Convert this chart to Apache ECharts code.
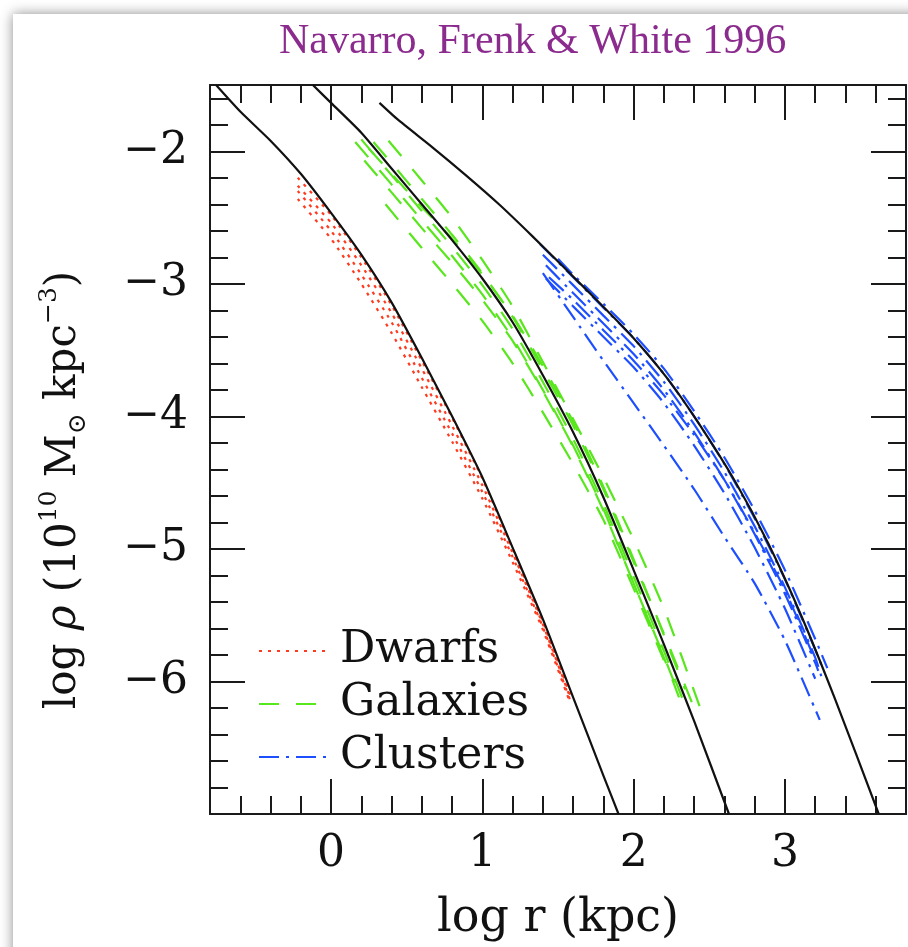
<!DOCTYPE html>
<html>
<head>
<meta charset="utf-8">
<script src="https://cdn.jsdelivr.net/npm/echarts@6/dist/echarts.min.js"></script>
<style>
  html, body { margin: 0; padding: 0; background: #ffffff; overflow: hidden; }
  #frame { position: absolute; left: 13px; top: 14px; width: 940px; height: 980px; background: #fff; box-shadow: 0 0 12px rgba(0,0,0,0.45); }
  #chart { position: absolute; left: 0; top: 0; width: 908px; height: 947px; }
</style>
</head>
<body>
<div id="frame"></div>
<div id="chart"></div>
<script>
// ---- tick labels ----
const xMajorTicks = [0, 1, 2, 3];
const yMajorTicks = [-6, -5, -4, -3, -2];

// ---- NFW fits (black solid) ----
const nfwDwarfX = [-0.76, -0.6, -0.4, -0.2, 0, 0.2, 0.4, 0.6, 0.8, 1.0, 1.2, 1.4, 1.6, 1.8, 1.9];
const nfwDwarfY = [-1.50, -1.70, -1.92, -2.17, -2.465, -2.78, -3.14, -3.56, -4.00, -4.46, -4.99, -5.53, -6.12, -6.71, -7.0];
const nfwGalaxyX = [-0.12, 0, 0.2, 0.4, 0.6, 0.8, 1.0, 1.2, 1.4, 1.6, 1.8, 2.0, 2.2, 2.4, 2.63];
const nfwGalaxyY = [-1.50, -1.635, -1.86, -2.13, -2.40, -2.67, -2.96, -3.29, -3.69, -4.12, -4.61, -5.16, -5.72, -6.30, -7.0];
const nfwClusterX = [0.32, 0.44, 0.67, 0.89, 1.11, 1.33, 1.56, 1.78, 2.0, 2.22, 2.44, 2.67, 2.89, 3.11, 3.33, 3.62];
const nfwClusterY = [-1.635, -1.76, -1.97, -2.18, -2.40, -2.64, -2.90, -3.15, -3.41, -3.71, -4.07, -4.49, -4.96, -5.51, -6.13, -7.0];

// ---- Dwarfs (red dotted) ----
const dwarfX = [-0.22, 0, 0.2, 0.4, 0.6, 0.8, 1.0, 1.2, 1.4, 1.58];
const dwarf1Y = [-2.20, -2.48, -2.80, -3.16, -3.58, -4.01, -4.47, -5.00, -5.55, -6.10];
const dwarf2Y = [-2.26, -2.54, -2.86, -3.22, -3.64, -4.07, -4.52, -5.03, -5.57, -6.12];
const dwarf3Y = [-2.30, -2.60, -2.93, -3.29, -3.71, -4.13, -4.57, -5.06, -5.59, -6.14];
const dwarf4Y = [-2.36, -2.66, -3.00, -3.37, -3.78, -4.19, -4.62, -5.10, -5.61, -6.16];

// ---- Galaxies (green dashed) ----
const galaxy1X = [0.16, 0.4, 0.6, 0.8, 1.0, 1.2, 1.4, 1.6, 1.8, 2.0, 2.2, 2.3];
const galaxy1Y = [-1.93, -2.25, -2.52, -2.79, -3.08, -3.41, -3.80, -4.22, -4.70, -5.26, -5.82, -6.12];
const galaxy2X = [0.2, 0.4, 0.6, 0.8, 1.0, 1.2, 1.4, 1.6, 1.8, 2.0, 2.2, 2.35];
const galaxy2Y = [-1.91, -2.18, -2.45, -2.72, -3.01, -3.34, -3.74, -4.17, -4.66, -5.21, -5.77, -6.21];
const galaxy3X = [0.22, 0.4, 0.6, 0.8, 1.0, 1.2, 1.4, 1.6, 1.8, 2.0, 2.2, 2.28];
const galaxy3Y = [-2.07, -2.31, -2.58, -2.84, -3.12, -3.43, -3.81, -4.23, -4.71, -5.26, -5.81, -6.04];
const galaxy4X = [0.28, 0.4, 0.6, 0.8, 1.0, 1.2, 1.4, 1.6, 1.8, 2.0, 2.2, 2.4];
const galaxy4Y = [-1.93, -2.09, -2.36, -2.63, -2.92, -3.25, -3.65, -4.07, -4.55, -5.10, -5.64, -6.20];
const galaxy5X = [0.38, 0.6, 0.8, 1.0, 1.2, 1.4, 1.6, 1.8, 2.0, 2.2, 2.44];
const galaxy5Y = [-1.92, -2.22, -2.50, -2.82, -3.17, -3.59, -4.02, -4.46, -4.93, -5.45, -6.20];
const galaxy6X = [0.36, 0.6, 0.8, 1.0, 1.2, 1.4, 1.6, 1.8, 2.0, 2.2];
const galaxy6Y = [-2.40, -2.73, -3.00, -3.28, -3.60, -3.97, -4.36, -4.78, -5.30, -5.84];
const galaxy7X = [0.25, 0.4, 0.6, 0.8, 1.0, 1.2, 1.4, 1.6, 1.8, 2.0, 2.2, 2.34];
const galaxy7Y = [-1.98, -2.17, -2.42, -2.66, -2.93, -3.24, -3.62, -4.04, -4.53, -5.08, -5.65, -6.06];

// ---- Clusters (blue dash-dot) ----
const cluster1X = [1.38, 1.6, 1.8, 2.0, 2.2, 2.4, 2.6, 2.8, 3.0, 3.2, 3.26];
const cluster1Y = [-2.70, -2.95, -3.18, -3.41, -3.68, -4.00, -4.36, -4.77, -5.23, -5.76, -5.93];
const cluster2X = [1.40, 1.6, 1.8, 2.0, 2.2, 2.4, 2.6, 2.8, 3.0, 3.2, 3.24];
const cluster2Y = [-2.78, -3.01, -3.24, -3.47, -3.74, -4.06, -4.42, -4.83, -5.29, -5.82, -5.96];
const cluster3X = [1.42, 1.6, 1.8, 2.0, 2.2, 2.4, 2.6, 2.8, 3.0, 3.2, 3.22];
const cluster3Y = [-2.86, -3.07, -3.30, -3.53, -3.80, -4.12, -4.48, -4.89, -5.34, -5.86, -5.92];
const cluster4X = [1.44, 1.6, 1.8, 2.0, 2.2, 2.4, 2.6, 2.8, 3.0, 3.2];
const cluster4Y = [-2.95, -3.12, -3.35, -3.58, -3.84, -4.14, -4.48, -4.88, -5.31, -5.84];
const cluster5X = [1.5, 1.6, 1.8, 2.0, 2.2, 2.4, 2.6, 2.8, 3.0, 3.2, 3.28];
const cluster5Y = [-2.81, -2.93, -3.15, -3.38, -3.64, -3.96, -4.31, -4.71, -5.16, -5.68, -5.90];
const cluster6X = [1.42, 1.6, 1.8, 2.0, 2.2, 2.4, 2.6, 2.8, 3.0, 3.2];
const cluster6Y = [-2.96, -3.17, -3.40, -3.63, -3.90, -4.22, -4.58, -4.99, -5.45, -5.98];
const cluster7X = [1.40, 1.6, 1.8, 2.0, 2.2, 2.4, 2.6, 2.8, 3.0, 3.2, 3.23];
const cluster7Y = [-2.92, -3.25, -3.58, -3.90, -4.22, -4.55, -4.91, -5.26, -5.69, -6.21, -6.29];

// ---- build ----
const pairs = (xs, ys) => xs.map((x, i) => [x, ys[i]]);
const SERIF = 'DejaVu Serif';
const INK = '#111111';

const groups = [
  { name: 'Dwarfs', color: '#ff3a1f', dash: [3, 6], curves: [[dwarfX, dwarf1Y], [dwarfX, dwarf2Y], [dwarfX, dwarf3Y], [dwarfX, dwarf4Y]] },
  { name: 'Galaxies', color: '#58e61c', dash: [20, 17], curves: [[galaxy1X, galaxy1Y], [galaxy2X, galaxy2Y], [galaxy3X, galaxy3Y], [galaxy4X, galaxy4Y], [galaxy5X, galaxy5Y], [galaxy6X, galaxy6Y], [galaxy7X, galaxy7Y]] },
  { name: 'Clusters', color: '#1e4fff', dash: [20, 7, 3, 7], curves: [[cluster1X, cluster1Y], [cluster2X, cluster2Y], [cluster3X, cluster3Y], [cluster4X, cluster4Y], [cluster5X, cluster5Y], [cluster6X, cluster6Y], [cluster7X, cluster7Y]] }
];

const series = [];
groups.forEach(g => {
  g.curves.forEach(c => {
    series.push({
      type: 'line', name: g.name, data: pairs(c[0], c[1]),
      symbol: 'none', smooth: 0.2, silent: true, z: 2,
      lineStyle: { color: g.color, width: 2.2, type: g.dash },
      itemStyle: { color: g.color }
    });
  });
});
[[nfwDwarfX, nfwDwarfY], [nfwGalaxyX, nfwGalaxyY], [nfwClusterX, nfwClusterY]].forEach((c, i) => {
  series.push({
    type: 'line', name: 'NFW ' + (i + 1), data: pairs(c[0], c[1]),
    symbol: 'none', smooth: 0.2, silent: true, z: 3,
    lineStyle: { color: INK, width: 2.2 }
  });
});

const lineStyle = { color: '#1a1a1a', width: 2 };
const minorAxis = (pos, extra) => Object.assign({
  type: 'value', position: pos, splitLine: { show: false },
  axisLine: { show: true, onZero: false, lineStyle },
  axisTick: { show: true, inside: true, length: 18, lineStyle },
  axisLabel: { show: false }
}, extra);
const majorAxis = (pos, ticks, showLabels, fmt, margin, extra) => Object.assign({
  type: 'value', position: pos, splitLine: { show: false },
  axisLine: { show: false, onZero: false },
  axisTick: { show: true, inside: true, length: 35, lineStyle, customValues: ticks },
  axisLabel: { show: showLabels, customValues: ticks, formatter: fmt, margin: margin,
               fontFamily: SERIF, fontSize: 44, color: INK }
}, extra);

const xr = { min: -0.8, max: 3.8 };
const yr = { min: -7, max: -1.5 };

const option = {
  animation: false,
  title: {
    text: 'Navarro, Frenk & White 1996', left: 274, top: 16,
    textStyle: { fontFamily: 'Liberation Serif', fontSize: 42, fontWeight: 'normal', color: '#8b2b8e' }
  },
  legend: {
    data: ['Dwarfs', 'Galaxies', 'Clusters'], orient: 'vertical', left: 253, top: 624,
    itemWidth: 72, itemHeight: 14, itemGap: 9, selectedMode: false,
    itemStyle: { opacity: 0 },
    textStyle: { fontFamily: SERIF, fontSize: 44, color: INK, lineHeight: 44, padding: [0, 0, 0, 4] }
  },
  grid: { left: 210, right: 2, top: 85, bottom: 132 },
  graphic: [{
    type: 'text', x: 64, y: 490, rotation: Math.PI / 2, silent: true,
    style: {
      text: '{t|log }{i|ρ}{t| (10}{sup|10}{t| M}{sub|⊙}{t| kpc}{sup|−3}{t|)}',
      align: 'center', verticalAlign: 'middle',
      font: '42px "DejaVu Serif"', fill: INK,
      rich: {
        t: { fontFamily: SERIF, fontSize: 42, fill: INK, lineHeight: 54, verticalAlign: 'middle' },
        i: { fontFamily: SERIF, fontSize: 42, fill: INK, fontStyle: 'italic', lineHeight: 54, verticalAlign: 'middle' },
        sup: { fontFamily: SERIF, fontSize: 25, fill: INK, lineHeight: 29, verticalAlign: 'top' },
        sub: { fontFamily: SERIF, fontSize: 25, fill: INK, lineHeight: 29, verticalAlign: 'bottom' }
      }
    }
  }],
  xAxis: [
    minorAxis('bottom', Object.assign({ interval: 0.2,
      name: 'log r (kpc)', nameLocation: 'middle', nameGap: 82,
      nameTextStyle: { fontFamily: SERIF, fontSize: 46, color: INK } }, xr)),
    majorAxis('bottom', xMajorTicks, true, v => String(v), 19, xr),
    minorAxis('top', Object.assign({ interval: 0.2 }, xr)),
    majorAxis('top', xMajorTicks, false, null, 8, xr)
  ],
  yAxis: [
    minorAxis('left', Object.assign({ interval: 0.2 }, yr)),
    majorAxis('left', yMajorTicks, true, v => '\u2212' + Math.abs(v), 22, yr),
    minorAxis('right', Object.assign({ interval: 0.2 }, yr)),
    majorAxis('right', yMajorTicks, false, null, 8, yr)
  ],
  series: series
};

const chart = echarts.init(document.getElementById('chart'), null, { renderer: 'canvas' });
chart.setOption(option);
</script>
</body>
</html>
